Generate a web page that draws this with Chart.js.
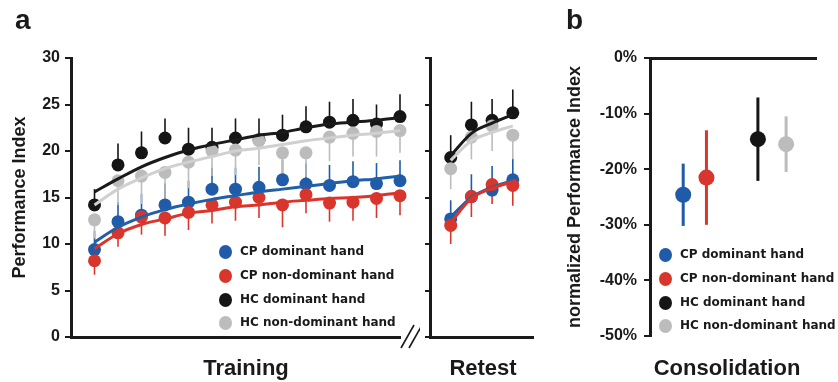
<!DOCTYPE html>
<html lang="en">
<head>
<meta charset="UTF-8">
<title>Performance Index: Training, Retest and Consolidation</title>
<style>
  body { margin: 0; background: #fff; width: 838px; height: 382px; position: relative; overflow: hidden;
         font-family: "Liberation Sans", Arial, sans-serif; color: #1a1a1a; }
  canvas { position: absolute; top: 0; }
  .lbl { position: absolute; font-weight: bold; line-height: 1; white-space: nowrap; }
  .panel { font-size: 28px; }
  .xtitle { font-size: 22px; transform: translateX(-50%); }
  .legend { position: absolute; font-family: "DejaVu Sans", sans-serif; font-weight: bold; font-size: 12px; }
  .legend div { position: relative; height: 23.8px; line-height: 23.8px; padding-left: 15px; white-space: nowrap; }
  .legend span { position: absolute; left: -6.5px; top: 5px; width: 13px; height: 14px; border-radius: 50%; }
</style>
</head>
<body>
<canvas id="training" width="420" height="382" style="left:0"></canvas>
<canvas id="retest" width="140" height="382" style="left:400px"></canvas>
<canvas id="consol" width="278" height="382" style="left:560px"></canvas>

<div class="lbl panel" style="left:15px;top:6px">a</div>
<div class="lbl panel" style="left:566px;top:6px">b</div>
<div class="lbl xtitle" style="left:246px;top:357px">Training</div>
<div class="lbl xtitle" style="left:483px;top:357px">Retest</div>
<div class="lbl xtitle" style="left:727px;top:357px">Consolidation</div>
<div class="legend" id="legendA" style="left:225px;top:240px"></div>
<div class="legend" id="legendB" style="left:665px;top:243px"></div>

<script src="https://cdn.jsdelivr.net/npm/chart.js"></script>
<script>
// groups and colours
var groups = ['CP dominant hand', 'CP non-dominant hand', 'HC dominant hand', 'HC non-dominant hand'];
var dotColors = ['#1f5ba8', '#d8362c', '#151515', '#bcbcbc'];
var fitColors = ['#2060a8', '#d9352b', '#1a1a1a', '#d0d0d0'];

// training sessions
var trainSessions = [1, 2, 3, 4, 5, 6, 7, 8, 9, 10, 11, 12, 13, 14];
var trainCpDom    = [9.4, 12.4, 13.1, 14.2, 14.5, 15.9, 15.9, 16.1, 16.9, 16.45, 16.3, 16.7, 16.5, 16.8];
var trainCpDomErr = [2.0, 2.1, 2.3, 2.3, 2.3, 2.3, 2.3, 2.2, 2.2, 2.2, 2.2, 2.2, 2.2, 2.2];
var trainCpNon    = [8.2, 11.2, 12.9, 12.8, 13.4, 14.2, 14.5, 15.0, 14.2, 15.3, 14.4, 14.5, 14.9, 15.2];
var trainCpNonErr = [1.5, 1.5, 1.9, 1.9, 1.9, 2.0, 2.0, 2.2, 2.4, 2.0, 2.0, 2.0, 2.1, 2.1];
var trainHcDom    = [14.2, 18.5, 19.8, 21.4, 20.2, 20.4, 21.4, 21.2, 21.7, 22.6, 23.1, 23.3, 22.9, 23.7];
var trainHcDomErr = [1.7, 2.3, 2.3, 2.1, 2.3, 2.1, 2.1, 2.3, 2.2, 2.2, 2.2, 2.3, 2.1, 2.4];
var trainHcNon    = [12.6, 16.8, 17.3, 17.7, 18.8, 20.0, 20.1, 21.1, 19.8, 19.8, 21.5, 21.9, 22.1, 22.2];
var trainHcNonErr = [2.0, 2.6, 3.0, 3.0, 2.8, 2.7, 2.7, 2.6, 2.6, 2.6, 2.6, 2.5, 2.7, 2.4];

// fitted learning curves
var trainFitCpDom = [10.2, 11.8, 12.9, 13.7, 14.3, 14.8, 15.2, 15.6, 15.9, 16.2, 16.5, 16.8, 17.0, 17.3];
var trainFitCpNon = [9.5, 11.1, 12.1, 12.7, 13.3, 13.6, 14.0, 14.2, 14.5, 14.7, 14.9, 15.0, 15.2, 15.5];
var trainFitHcDom = [15.6, 17.0, 18.3, 19.3, 20.1, 20.7, 21.2, 21.7, 22.0, 22.5, 22.9, 23.1, 23.3, 23.6];
var trainFitHcNon = [14.2, 15.9, 17.1, 18.1, 18.8, 19.4, 20.0, 20.3, 20.7, 21.1, 21.4, 21.7, 21.9, 22.2];

// retest sessions
var retestSessions = [1, 2, 3, 4];
var retestCpDom    = [12.7, 15.1, 15.8, 16.9];
var retestCpDomErr = [2.0, 2.4, 2.6, 2.3];
var retestCpNon    = [12.0, 15.1, 16.4, 16.3];
var retestCpNonErr = [2.0, 2.2, 2.1, 2.2];
var retestHcDom    = [19.3, 22.8, 23.3, 24.1];
var retestHcDomErr = [2.4, 2.5, 2.3, 2.5];
var retestHcNon    = [18.1, 21.5, 22.7, 21.7];
var retestHcNonErr = [2.2, 2.4, 2.7, 2.6];
var retestFitCpDom = [12.9, 15.0, 16.1, 16.8];
var retestFitCpNon = [12.3, 14.9, 16.0, 16.7];
var retestFitHcDom = [19.5, 21.9, 23.0, 23.9];
var retestFitHcNon = [19.0, 21.1, 22.0, 22.7];

// consolidation (% change), x = position of each group on the axis
var consolX    = [2.0, 3.4, 6.5, 8.2];
var consolMean = [-24.6, -21.5, -14.6, -15.5];
var consolErr  = [5.6, 8.5, 7.5, 5.0];

var yTicks = [0, 5, 10, 15, 20, 25, 30];
var consolTicks = [0, -10, -20, -30, -40, -50];

var tickFont = { family: "'Liberation Sans', Arial, sans-serif", size: 16, weight: 'bold' };
var titleFont = { family: "'Liberation Sans', Arial, sans-serif", size: 18, weight: 'bold' };
var ink = '#1a1a1a';

function pts(xs, ys) {
    return xs.map(function (x, i) { return { x: x, y: ys[i] }; });
}

// one-sided / two-sided error bars drawn under the dots
var errorBars = {
    id: 'errorBars',
    beforeDatasetsDraw: function (chart) {
        var ctx = chart.ctx, xs = chart.scales.x, ys = chart.scales.y;
        chart.data.datasets.forEach(function (ds) {
            if (!ds.errUp && !ds.errDown) return;
            ctx.save();
            ctx.strokeStyle = ds.backgroundColor;
            ctx.lineWidth = ds.errWidth || 1.6;
            ds.data.forEach(function (p, i) {
                var x = xs.getPixelForValue(p.x);
                var up = ds.errUp ? ds.errUp[i] : 0;
                var dn = ds.errDown ? ds.errDown[i] : 0;
                ctx.beginPath();
                ctx.moveTo(x, ys.getPixelForValue(p.y - dn));
                ctx.lineTo(x, ys.getPixelForValue(p.y + up));
                ctx.stroke();
            });
            ctx.restore();
        });
    }
};

// the // axis break after the training axis
var axisBreak = {
    id: 'axisBreak',
    afterDraw: function (chart) {
        var ctx = chart.ctx, a = chart.chartArea;
        ctx.save();
        ctx.strokeStyle = ink;
        ctx.lineWidth = 1.6;
        [1, 9].forEach(function (d) {
            ctx.beginPath();
            ctx.moveTo(a.right + d, a.bottom + 11);
            ctx.lineTo(a.right + d + 13, a.bottom - 12);
            ctx.stroke();
        });
        ctx.restore();
    }
};

function sessionPanel(id, xs, means, errs, fits, xMax, yWidth, showY, padRight, plugins) {
    var datasets = [];
    // fitted curves on top
    fits.forEach(function (f, g) {
        datasets.push({
            type: 'line', data: pts(xs, f), borderColor: fitColors[g], borderWidth: 3,
            pointRadius: 0, cubicInterpolationMode: 'monotone', fill: false, clip: false, order: 4 - g
        });
    });
    // HC dots above CP dots, non-dominant above dominant
    means.forEach(function (m, g) {
        var up = (g === 0 || g === 2);
        datasets.push({
            type: 'scatter', data: pts(xs, m), backgroundColor: dotColors[g], borderWidth: 0,
            pointRadius: 6.5, pointHoverRadius: 6.5, clip: false, order: 10 - g,
            errUp: up ? errs[g] : null, errDown: up ? null : errs[g]
        });
    });
    return new Chart(document.getElementById(id), {
        type: 'scatter',
        data: { datasets: datasets },
        options: {
            responsive: false, animation: false, events: [],
            layout: { padding: { top: 58, right: padRight, bottom: 0, left: 0 } },
            plugins: { legend: { display: false }, tooltip: { enabled: false } },
            scales: {
                x: {
                    type: 'linear', min: 0, max: xMax,
                    ticks: { display: false },
                    grid: { display: false },
                    border: { display: true, color: ink, width: 3 },
                    afterFit: function (s) { s.height = 45; }
                },
                y: {
                    type: 'linear', min: 0, max: 30,
                    afterBuildTicks: function (s) { s.ticks = yTicks.map(function (v) { return { value: v }; }); },
                    ticks: { display: showY, font: tickFont, color: ink, padding: 5 },
                    grid: { display: true, drawOnChartArea: false, drawTicks: true, tickLength: showY ? 6 : 5,
                            color: ink, lineWidth: 2 },
                    border: { display: true, color: ink, width: 3 },
                    title: { display: showY, text: 'Performance Index', font: titleFont, color: ink,
                             padding: { top: 9, bottom: 0 } },
                    afterFit: function (s) { s.width = yWidth; }
                }
            }
        },
        plugins: plugins
    });
}

sessionPanel('training', trainSessions,
    [trainCpDom, trainCpNon, trainHcDom, trainHcNon],
    [trainCpDomErr, trainCpNonErr, trainHcDomErr, trainHcNonErr],
    [trainFitCpDom, trainFitCpNon, trainFitHcDom, trainFitHcNon],
    14, 71, true, 20, [errorBars, axisBreak]);

sessionPanel('retest', retestSessions,
    [retestCpDom, retestCpNon, retestHcDom, retestHcNon],
    [retestCpDomErr, retestCpNonErr, retestHcDomErr, retestHcNonErr],
    [retestFitCpDom, retestFitCpNon, retestFitHcDom, retestFitHcNon],
    5, 30, false, 3, [errorBars]);

// panel b: consolidation
new Chart(document.getElementById('consol'), {
    type: 'scatter',
    data: {
        datasets: groups.map(function (g, i) {
            return {
                data: [{ x: consolX[i], y: consolMean[i] }], backgroundColor: dotColors[i], borderWidth: 0,
                pointRadius: 8, pointHoverRadius: 8, clip: false, order: 10 - i,
                errUp: [consolErr[i]], errDown: [consolErr[i]], errWidth: 3
            };
        })
    },
    options: {
        responsive: false, animation: false, events: [],
        layout: { padding: { top: 58, right: 22, bottom: 46, left: 0 } },
        plugins: { legend: { display: false }, tooltip: { enabled: false } },
        scales: {
            x: {
                type: 'linear', position: 'top', min: 0, max: 10,
                ticks: { display: false },
                grid: { display: false },
                border: { display: true, color: ink, width: 3 },
                afterFit: function (s) { s.height = 0; }
            },
            y: {
                type: 'linear', min: -50, max: 0,
                afterBuildTicks: function (s) { s.ticks = consolTicks.map(function (v) { return { value: v }; }); },
                ticks: { font: tickFont, color: ink, padding: 7, callback: function (v) { return v + '%'; } },
                grid: { display: true, drawOnChartArea: false, drawTicks: true, tickLength: 6, color: ink, lineWidth: 2 },
                border: { display: true, color: ink, width: 3 },
                title: { display: true, text: 'normalized Performance Index', font: titleFont, color: ink,
                         padding: { top: 4, bottom: 0 } },
                afterFit: function (s) { s.width = 90; }
            }
        }
    },
    plugins: [errorBars]
});

// legends
function buildLegend(id) {
    var box = document.getElementById(id);
    groups.forEach(function (g, i) {
        var row = document.createElement('div');
        var dot = document.createElement('span');
        dot.style.background = dotColors[i];
        row.appendChild(dot);
        row.appendChild(document.createTextNode(g));
        box.appendChild(row);
    });
}
buildLegend('legendA');
buildLegend('legendB');
</script>
</body>
</html>
